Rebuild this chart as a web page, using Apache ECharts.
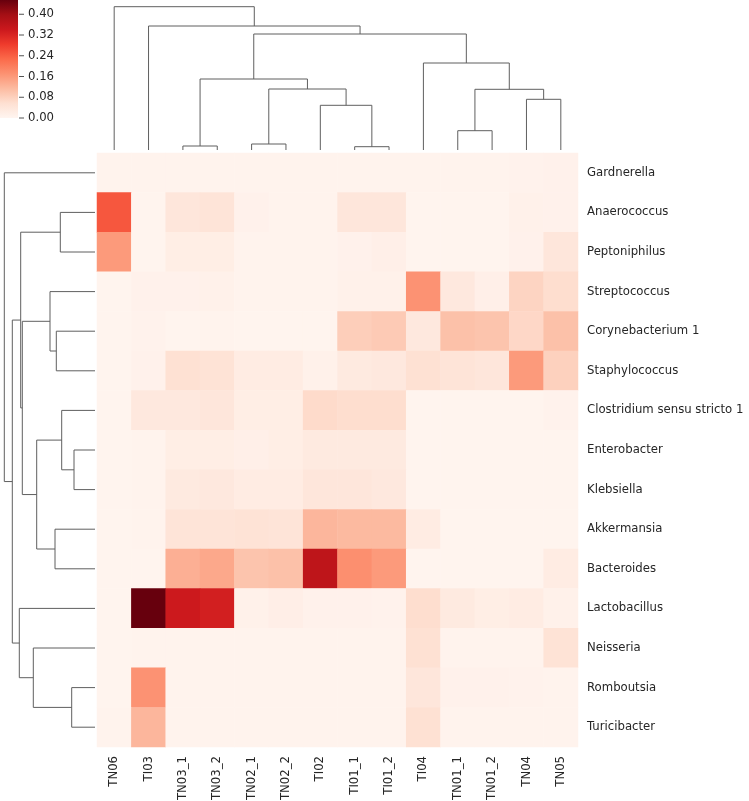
<!DOCTYPE html>
<html><head><meta charset="utf-8">
<script src="https://cdn.jsdelivr.net/npm/echarts@6/dist/echarts.min.js"></script>
<style>html,body{margin:0;padding:0;background:#fff}#c{width:749px;height:801px}</style>
</head><body><div id="c"></div>
<script>
// ---- data ----
const colLabels = ['TN06','TI03','TN03_1','TN03_2','TN02_1','TN02_2','TI02','TI01_1','TI01_2','TI04','TN01_1','TN01_2','TN04','TN05'];
const rowLabels = ['Gardnerella','Anaerococcus','Peptoniphilus','Streptococcus','Corynebacterium 1','Staphylococcus','Clostridium sensu stricto 1','Enterobacter','Klebsiella','Akkermansia','Bacteroides','Lactobacillus','Neisseria','Romboutsia','Turicibacter'];
// relative abundance, one array per genus (row), columns in colLabels order
const gardnerella    = [0.005,0.005,0.005,0.005,0.005,0.005,0.005,0.005,0.005,0.006,0.006,0.006,0.008,0.010];
const anaerococcus   = [0.250,0.003,0.040,0.045,0.010,0.005,0.005,0.040,0.040,0.003,0.003,0.003,0.012,0.010];
const peptoniphilus  = [0.160,0.003,0.020,0.020,0.005,0.005,0.005,0.010,0.015,0.003,0.003,0.004,0.010,0.040];
const streptococcus  = [0.003,0.010,0.010,0.012,0.005,0.005,0.005,0.012,0.012,0.170,0.035,0.015,0.075,0.060];
const corynebact     = [0.004,0.008,0.004,0.005,0.004,0.004,0.004,0.085,0.090,0.035,0.105,0.100,0.070,0.105];
const staphylococcus = [0.004,0.010,0.055,0.050,0.025,0.025,0.012,0.030,0.035,0.055,0.045,0.040,0.160,0.080];
const clostridium    = [0.004,0.035,0.035,0.040,0.020,0.020,0.065,0.060,0.060,0.003,0.003,0.003,0.003,0.008];
const enterobacter   = [0.004,0.005,0.020,0.020,0.015,0.020,0.030,0.030,0.030,0.004,0.004,0.004,0.004,0.004];
const klebsiella     = [0.004,0.005,0.030,0.035,0.025,0.025,0.040,0.040,0.035,0.004,0.004,0.004,0.004,0.004];
const akkermansia    = [0.004,0.005,0.045,0.045,0.050,0.045,0.120,0.115,0.115,0.025,0.004,0.004,0.004,0.004];
const bacteroides    = [0.004,0.004,0.130,0.140,0.100,0.105,0.360,0.175,0.160,0.004,0.004,0.004,0.004,0.025];
const lactobacillus  = [0.004,0.455,0.340,0.330,0.012,0.018,0.010,0.010,0.008,0.060,0.030,0.020,0.025,0.012];
const neisseria      = [0.004,0.006,0.006,0.006,0.006,0.006,0.006,0.006,0.006,0.055,0.006,0.006,0.006,0.050];
const romboutsia     = [0.004,0.170,0.006,0.006,0.006,0.006,0.006,0.006,0.006,0.040,0.010,0.010,0.008,0.006];
const turicibacter   = [0.005,0.120,0.005,0.005,0.005,0.005,0.005,0.005,0.005,0.055,0.005,0.005,0.005,0.005];
const abundance = [gardnerella,anaerococcus,peptoniphilus,streptococcus,corynebact,staphylococcus,clostridium,enterobacter,klebsiella,akkermansia,bacteroides,lactobacillus,neisseria,romboutsia,turicibacter];

// dendrogram linkages: [childA, childB, height]; leaves 0..n-1, merged node k gets id n+k
const colLinks = [
  [2,3,4],[4,5,6],[7,8,3.3],[6,16,44.7],[15,17,61],[14,18,71],
  [10,11,19.3],[12,13,50.7],[20,21,60.7],[9,22,87],[19,23,116],[1,24,124],[0,25,143.3]
];
const rowLinks = [
  [1,2,34.7],[4,5,38.7],[3,16,45],[7,8,21],[6,18,33.3],[9,10,40],[19,20,58.3],
  [17,21,72.7],[15,22,74.3],[13,14,23.3],[12,24,61.7],[11,25,75.7],[23,26,82.7],[0,27,90.7]
];
const colorbarTicks = [0.00,0.08,0.16,0.24,0.32,0.40];
const vmax = 0.455;
const reds = ['#fff5f0','#fee0d2','#fcbba1','#fc9272','#fb6a4a','#ef3b2c','#cb181d','#a50f15','#67000d'];

// ---- build ----
function buildDendro(links, n) {
  const pos = [], hgt = [], segs = [];
  for (let i = 0; i < n; i++) { pos[i] = i + 0.5; hgt[i] = 0; }
  links.forEach((l, k) => {
    const [a, b, h] = l;
    segs.push([pos[a], hgt[a], pos[b], hgt[b], h]);
    pos[n + k] = (pos[a] + pos[b]) / 2; hgt[n + k] = h;
  });
  return segs;
}
const colSegs = buildDendro(colLinks, colLabels.length);
const rowSegs = buildDendro(rowLinks, rowLabels.length);
const heatData = [];
abundance.forEach((row, r) => row.forEach((v, c) => heatData.push([c, r, v])));

const FONT = 'DejaVu Sans', TXT = '#262626', LINE = '#5f5f5f', FS = 11.7;
const chart = echarts.init(document.getElementById('c'), null, {renderer: 'canvas'});
chart.setOption({
  animation: false,
  backgroundColor: '#fff',
  textStyle: {fontFamily: FONT},
  grid: [
    {left: 97, top: 153, width: 481, height: 594, outerBoundsMode: 'none', containLabel: false},
    {left: 97, top: 0, width: 481, height: 150, outerBoundsMode: 'none', containLabel: false},
    {left: 0, top: 153, width: 95, height: 594, outerBoundsMode: 'none', containLabel: false},
    {left: 0, top: 0, width: 18, height: 118, outerBoundsMode: 'none', containLabel: false}
  ],
  xAxis: [
    {gridIndex: 0, type: 'category', data: colLabels, position: 'bottom',
     axisLine: {show: false}, splitLine: {show: false},
     axisTick: {alignWithLabel: true, length: 4, lineStyle: {color: TXT, width: 0.8}},
     axisLabel: {rotate: 90, margin: 9, fontSize: FS, color: TXT, fontFamily: FONT}},
    {gridIndex: 1, type: 'value', min: 0, max: colLabels.length, show: false},
    {gridIndex: 2, type: 'value', min: 0, max: 95, inverse: true, show: false},
    {gridIndex: 3, type: 'value', min: 0, max: 1, show: false}
  ],
  yAxis: [
    {gridIndex: 0, type: 'category', data: rowLabels, inverse: true, position: 'right',
     axisLine: {show: false}, splitLine: {show: false},
     axisTick: {alignWithLabel: true, length: 4, lineStyle: {color: TXT, width: 0.8}},
     axisLabel: {margin: 9, fontSize: FS, color: TXT, fontFamily: FONT}},
    {gridIndex: 1, type: 'value', min: 0, max: 150, show: false},
    {gridIndex: 2, type: 'value', min: 0, max: rowLabels.length, inverse: true, show: false},
    {gridIndex: 3, type: 'value', min: 0, max: vmax, position: 'right',
     axisLine: {show: false}, splitLine: {show: false}, axisTick: {show: false},
     axisLabel: {customValues: colorbarTicks, margin: 10, fontSize: FS, color: TXT, fontFamily: FONT,
                 formatter: v => Number(v).toFixed(2)}}
  ],
  visualMap: {show: false, type: 'continuous', min: 0, max: vmax, dimension: 2, seriesIndex: 0,
              inRange: {color: reds}},
  series: [
    {type: 'heatmap', xAxisIndex: 0, yAxisIndex: 0, data: heatData,
     itemStyle: {borderWidth: 0}, emphasis: {disabled: true}},
    {type: 'custom', xAxisIndex: 1, yAxisIndex: 1, data: colSegs, silent: true,
     renderItem: (p, api) => {
       const xa = api.value(0), ha = api.value(1), xb = api.value(2), hb = api.value(3), h = api.value(4);
       return {type: 'polyline', shape: {points: [api.coord([xa, ha]), api.coord([xa, h]), api.coord([xb, h]), api.coord([xb, hb])]},
               style: {stroke: LINE, lineWidth: 1, fill: null}};
     }},
    {type: 'custom', xAxisIndex: 2, yAxisIndex: 2, data: rowSegs, silent: true,
     renderItem: (p, api) => {
       const ya = api.value(0), ha = api.value(1), yb = api.value(2), hb = api.value(3), h = api.value(4);
       return {type: 'polyline', shape: {points: [api.coord([ha, ya]), api.coord([h, ya]), api.coord([h, yb]), api.coord([hb, yb])]},
               style: {stroke: LINE, lineWidth: 1, fill: null}};
     }},
    {type: 'custom', xAxisIndex: 3, yAxisIndex: 3, data: [[0, vmax]], silent: true,
     renderItem: (p, api) => {
       const p0 = api.coord([0, 0]), p1 = api.coord([1, api.value(1)]);
       return {type: 'rect', shape: {x: p0[0], y: p1[1], width: p1[0] - p0[0], height: p0[1] - p1[1]},
               style: {fill: new echarts.graphic.LinearGradient(0, 1, 0, 0,
                 reds.map((c, i) => ({offset: i / (reds.length - 1), color: c})))}};
     }},
    {type: 'custom', xAxisIndex: 3, yAxisIndex: 3, data: colorbarTicks.map(v => [1, v]), silent: true, clip: false,
     renderItem: (p, api) => {
       const pt = api.coord([1, api.value(1)]);
       return {type: 'line', shape: {x1: pt[0] + 1, y1: pt[1], x2: pt[0] + 6, y2: pt[1]},
               style: {stroke: TXT, lineWidth: 0.8}};
     }}
  ]
});
</script></body></html>
